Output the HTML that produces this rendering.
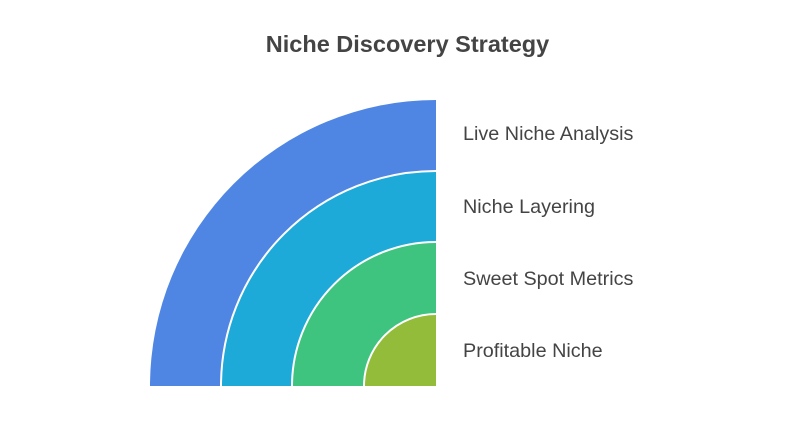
<!DOCTYPE html>
<html><head><style>
html,body{margin:0;padding:0;background:#fff;}
body{width:790px;height:436px;overflow:hidden;position:relative;font-family:"Liberation Sans",sans-serif;}
.t{position:absolute;left:0;width:815px;top:31px;text-align:center;font-size:23.5px;font-weight:bold;color:#444;}
.l{position:absolute;left:463px;font-size:19.8px;color:#444;}
</style></head><body>
<div class="t">Niche Discovery Strategy</div>
<svg width="790" height="436" style="position:absolute;left:0;top:0">
<path d="M436 386 L150 386 A286 286 0 0 1 436 100 Z" fill="#4f86e4"/>
<path d="M436 386 L221 386 A215 215 0 0 1 436 171 Z" fill="#1eaad9"/>
<path d="M436 386 L292 386 A144 144 0 0 1 436 242 Z" fill="#3ec47f"/>
<path d="M436 386 L364 386 A72 72 0 0 1 436 314 Z" fill="#92bc3a"/>
<g fill="none" stroke="#fff" stroke-width="2">
<path d="M221 386 A215 215 0 0 1 436 171"/>
<path d="M292 386 A144 144 0 0 1 436 242"/>
<path d="M364 386 A72 72 0 0 1 436 314"/>
</g>
</svg>
<div class="l" style="top:123px">Live Niche Analysis</div>
<div class="l" style="top:196px">Niche Layering</div>
<div class="l" style="top:268px">Sweet Spot Metrics</div>
<div class="l" style="top:340px">Profitable Niche</div>
</body></html>
